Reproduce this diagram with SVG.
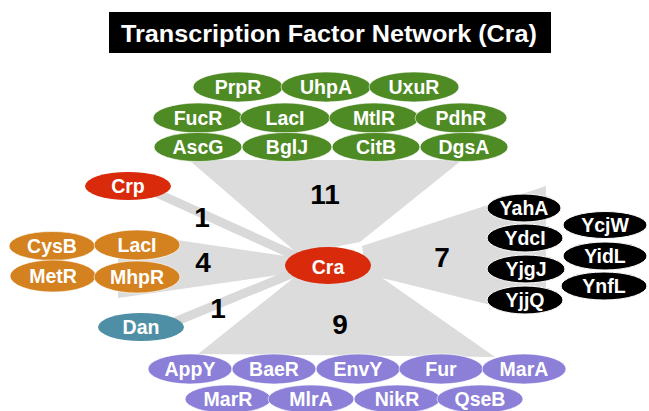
<svg xmlns="http://www.w3.org/2000/svg" width="649" height="411" viewBox="0 0 649 411">
  <style>
    .lbl { font-family: "Liberation Sans", Arial, sans-serif; font-weight: bold; font-size: 19.5px; fill: #ffffff; text-anchor: middle; }
    .num { font-family: "Liberation Sans", Arial, sans-serif; font-weight: bold; font-size: 28px; fill: #000000; text-anchor: middle; }
    .fan { fill: #dcdcdc; stroke: none; }
    .band { stroke: #d9d9d9; stroke-width: 9; fill: none; }
    .green { fill: #4f8b25; stroke: #ffffff; stroke-width: 0.6; }
    .orange { fill: #d4821f; stroke: #ffffff; stroke-width: 0.6; }
    .black { fill: #000000; stroke: #ffffff; stroke-width: 1; }
    .purple { fill: #8b7fd8; stroke: #ffffff; stroke-width: 0.6; }
    .red { fill: #d92b0c; }
    .teal { fill: #4f8fa6; }
  </style>

  <!-- title -->
  <g id="title">
    <rect x="109" y="12" width="442" height="41" fill="#000000"/>
    <text x="329" y="42" font-family="'Liberation Sans', Arial, sans-serif" font-weight="bold" font-size="24" fill="#ffffff" text-anchor="middle" textLength="416" lengthAdjust="spacingAndGlyphs">Transcription Factor Network (Cra)</text>
  </g>

  <!-- connectors: grey fans and bands from Cra to each group -->
  <g id="connectors">
    <polygon class="fan" points="298,254 189,160 462,160 360,242"/>
    <polygon class="fan" points="362,246 546,186 546,300 487,304 366,274"/>
    <polygon class="fan" points="296,276 198,354 495,357 368,268"/>
    <polygon class="fan" points="150,236 292,257 292,273 118,298 118,240"/>
    <line class="band" x1="150" y1="190" x2="300" y2="258"/>
    <line class="band" x1="150" y1="332" x2="296" y2="272"/>
  </g>

  <!-- numbers of regulators per group -->
  <g id="counts">
    <text class="num" x="325" y="204">11</text>
    <text class="num" x="202" y="227">1</text>
    <text class="num" x="203" y="272">4</text>
    <text class="num" x="218" y="318">1</text>
    <text class="num" x="340" y="334">9</text>
    <text class="num" x="442" y="267">7</text>
  </g>

  <!-- green group -->
  <g id="PrpR"><ellipse class="green" cx="238" cy="87" rx="45" ry="15"/><text class="lbl" x="238" y="94">PrpR</text></g>
  <g id="UhpA"><ellipse class="green" cx="326" cy="87" rx="45" ry="15"/><text class="lbl" x="326" y="94">UhpA</text></g>
  <g id="UxuR"><ellipse class="green" cx="414" cy="87" rx="45" ry="15"/><text class="lbl" x="414" y="94">UxuR</text></g>
  <g id="FucR"><ellipse class="green" cx="198" cy="118" rx="45" ry="15"/><text class="lbl" x="198" y="125">FucR</text></g>
  <g id="LacI-g"><ellipse class="green" cx="285" cy="118" rx="45" ry="15"/><text class="lbl" x="285" y="125">LacI</text></g>
  <g id="MtlR"><ellipse class="green" cx="374" cy="118" rx="45" ry="15"/><text class="lbl" x="374" y="125">MtlR</text></g>
  <g id="PdhR"><ellipse class="green" cx="461" cy="118" rx="46" ry="15"/><text class="lbl" x="461" y="125">PdhR</text></g>
  <g id="AscG"><ellipse class="green" cx="198" cy="147" rx="44" ry="14.5"/><text class="lbl" x="198" y="154">AscG</text></g>
  <g id="BglJ"><ellipse class="green" cx="287" cy="147" rx="45" ry="14.5"/><text class="lbl" x="287" y="154">BglJ</text></g>
  <g id="CitB"><ellipse class="green" cx="376" cy="147" rx="44" ry="14.5"/><text class="lbl" x="376" y="154">CitB</text></g>
  <g id="DgsA"><ellipse class="green" cx="464" cy="147" rx="44" ry="14.5"/><text class="lbl" x="464" y="154">DgsA</text></g>

  <!-- Crp -->
  <g id="Crp"><ellipse class="red" cx="128" cy="186" rx="43" ry="14"/><text class="lbl" x="128" y="193">Crp</text></g>

  <!-- orange group -->
  <g id="CysB"><ellipse class="orange" cx="52" cy="246" rx="43" ry="14.5"/><text class="lbl" x="52" y="253">CysB</text></g>
  <g id="LacI-o"><ellipse class="orange" cx="137" cy="245" rx="43" ry="15"/><text class="lbl" x="137" y="252">LacI</text></g>
  <g id="MetR"><ellipse class="orange" cx="53" cy="276" rx="43" ry="16"/><text class="lbl" x="53" y="283">MetR</text></g>
  <g id="MhpR"><ellipse class="orange" cx="137" cy="277" rx="43" ry="16"/><text class="lbl" x="137" y="284">MhpR</text></g>

  <!-- Dan -->
  <g id="Dan"><ellipse class="teal" cx="141" cy="327" rx="43" ry="14"/><text class="lbl" x="141" y="334">Dan</text></g>

  <!-- Cra, the hub -->
  <g id="Cra"><ellipse class="red" cx="328" cy="265.5" rx="43" ry="18.5"/><text class="lbl" x="328" y="274" font-size="24">Cra</text></g>

  <!-- black group: right column first, left column on top -->
  <g id="YcjW"><ellipse class="black" cx="605" cy="225" rx="42" ry="13.5"/><text class="lbl" x="605" y="232">YcjW</text></g>
  <g id="YidL"><ellipse class="black" cx="605" cy="256" rx="42" ry="14"/><text class="lbl" x="605" y="263">YidL</text></g>
  <g id="YnfL"><ellipse class="black" cx="604" cy="286" rx="43" ry="14"/><text class="lbl" x="604" y="293">YnfL</text></g>
  <g id="YahA"><ellipse class="black" cx="524" cy="208" rx="37" ry="14"/><text class="lbl" x="524" y="215">YahA</text></g>
  <g id="YdcI"><ellipse class="black" cx="525" cy="238" rx="38" ry="14"/><text class="lbl" x="525" y="245">YdcI</text></g>
  <g id="YjgJ"><ellipse class="black" cx="526" cy="269" rx="39" ry="14"/><text class="lbl" x="526" y="276">YjgJ</text></g>
  <g id="YjjQ"><ellipse class="black" cx="525" cy="300" rx="38" ry="14"/><text class="lbl" x="525" y="307">YjjQ</text></g>

  <!-- purple group -->
  <g id="AppY"><ellipse class="purple" cx="190" cy="369" rx="42" ry="15"/><text class="lbl" x="190" y="376">AppY</text></g>
  <g id="BaeR"><ellipse class="purple" cx="274" cy="369" rx="42" ry="15"/><text class="lbl" x="274" y="376">BaeR</text></g>
  <g id="EnvY"><ellipse class="purple" cx="358" cy="369" rx="42" ry="15"/><text class="lbl" x="358" y="376">EnvY</text></g>
  <g id="Fur"><ellipse class="purple" cx="441" cy="369" rx="42" ry="15"/><text class="lbl" x="441" y="376">Fur</text></g>
  <g id="MarA"><ellipse class="purple" cx="524" cy="369" rx="42" ry="15"/><text class="lbl" x="524" y="376">MarA</text></g>
  <g id="MarR"><ellipse class="purple" cx="228" cy="399" rx="43" ry="14"/><text class="lbl" x="228" y="406">MarR</text></g>
  <g id="MlrA"><ellipse class="purple" cx="311" cy="399" rx="43" ry="14"/><text class="lbl" x="311" y="406">MlrA</text></g>
  <g id="NikR"><ellipse class="purple" cx="397" cy="399" rx="43" ry="14"/><text class="lbl" x="397" y="406">NikR</text></g>
  <g id="QseB"><ellipse class="purple" cx="480" cy="399" rx="43" ry="14"/><text class="lbl" x="480" y="406">QseB</text></g>
</svg>
